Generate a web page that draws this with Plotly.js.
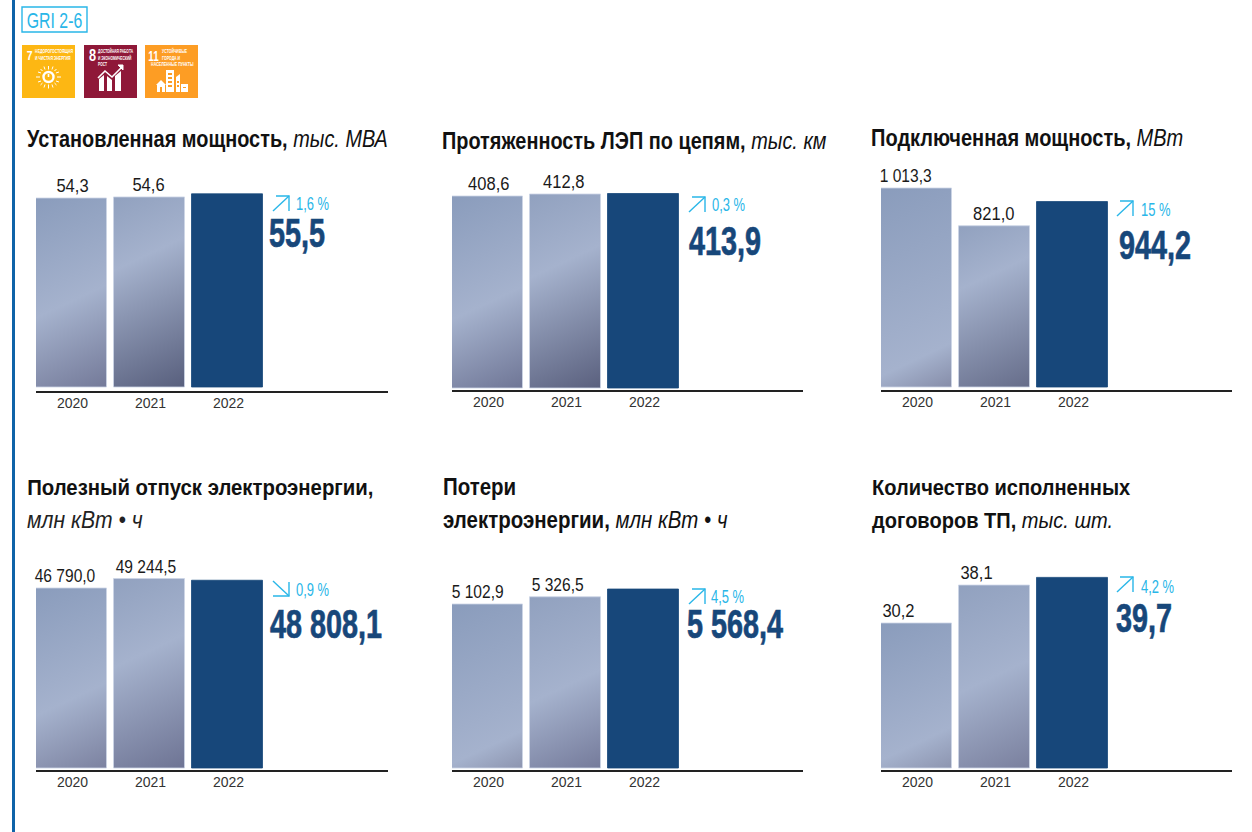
<!DOCTYPE html>
<html><head><meta charset="utf-8">
<script src="https://cdn.plot.ly/plotly-3.0.1.min.js"></script>
<style>html,body{margin:0;padding:0;background:#fff}#c{width:1252px;height:832px}</style></head>
<body><div id="c"></div>
<script>
const years = ['2020','2021','2022'];
const valuesInstalled = [54.3,54.6,55.5];
const valuesLines = [408.6,412.8,413.9];
const valuesConnected = [1013.3,821.0,944.2];
const valuesSupply = [46790.0,49244.5,48808.1];
const valuesLosses = [5102.9,5326.5,5568.4];
const valuesContracts = [30.2,38.1,39.7];
const labelsInstalled = ['54,3','54,6','55,5'];
const labelsLines = ['408,6','412,8','413,9'];
const labelsConnected = ['1 013,3','821,0','944,2'];
const labelsSupply = ['46 790,0','49 244,5','48 808,1'];
const labelsLosses = ['5 102,9','5 326,5','5 568,4'];
const labelsContracts = ['30,2','38,1','39,7'];
const changes = ['1,6 %','0,3 %','15 %','0,9 %','4,5 %','4,2 %'];
const directions = ['up','up','up','down','up','up'];
const titleBold = [['Установленная мощность,'],['Протяженность ЛЭП по цепям,'],['Подключенная мощность,'],['Полезный отпуск электроэнергии,'],['Потери','электроэнергии,'],['Количество исполненных','договоров ТП,']];
const titleUnit = ['тыс. МВА','тыс. км','МВт','млн кВт • ч','млн кВт • ч','тыс. шт.'];

const W=1252,H=832, SANS='"Liberation Sans",sans-serif';
const px=x=>x/W, py=y=>1-y/H;
const panels=[
 {v:valuesInstalled,l:labelsInstalled,x0:36,x1:388,axis:391,base:387,top:198,sh:[1,-1],ax:273,ay:196,pxx:295,pyy:204,bx:268,by:233,tx:26,ty:[139],ts:0.865,
  fill:[[0.54,'#747A99'],[0.33,'#585F7D']]},
 {v:valuesLines,l:labelsLines,x0:452,x1:803,axis:390,base:388,top:196,sh:[2,-1],ax:689,ay:197,pxx:711,pyy:205,bx:688,by:241,tx:441,ty:[141],ts:0.865,
  fill:[[0.55,'#6F7696'],[0.37,'#5A607E']]},
 {v:valuesConnected,l:labelsConnected,x0:881,x1:1232,axis:390,base:387,top:188,sh:[-11,0],ax:1117,ay:201,pxx:1140,pyy:210,bx:1118,by:245,tx:870,ty:[138],ts:0.87,
  fill:[[0.81,'#868DA9'],[0.33,'#666D8A']]},
 {v:valuesSupply,l:labelsSupply,x0:36,x1:388,axis:770,base:768,top:588,sh:[-6,-3],ax:273,ay:581,pxx:295,pyy:590,bx:269,by:624,tx:26,ty:[487,520],ts:0.885,
  fill:[[0.6,'#7C82A0'],[0.4,'#6E7494']]},
 {v:valuesLosses,l:labelsLosses,x0:452,x1:803,axis:770,base:768,top:604,sh:[-10,-8],ax:689,ay:589,pxx:710,pyy:597,bx:686,by:624,tx:442,ty:[487,520],ts:0.89,
  fill:[[0.81,'#8D95B0'],[0.52,'#757B9B']]},
 {v:valuesContracts,l:labelsContracts,x0:881,x1:1232,axis:770,base:768,top:623,sh:[-18,-18],ax:1117,ay:577,pxx:1140,pyy:587,bx:1115,by:618,tx:871,ty:[487,520],ts:0.872,
  fill:[[0.77,'#8D95B0'],[0.5,'#7A809E']]}
];
const STEP=78, TOPPX=150;
const traces=[],annotations=[],shapes=[],annFit=[];
const layout={width:W,height:H,margin:{l:0,r:0,t:0,b:0},paper_bgcolor:'#fff',plot_bgcolor:'rgba(0,0,0,0)',showlegend:false,bargap:0.09,annotations,shapes,font:{family:SANS}};

function addAnn(a,fit){annotations.push(a);annFit.push(fit);}
function note(text,x,y,size,color,anchor,sx,heavy){addAnn({text,x:px(x),y:py(y),xref:'paper',yref:'paper',xanchor:anchor||'left',yanchor:'middle',showarrow:false,borderpad:0,font:{size,color,family:SANS}},{sx:sx||0.865,origin:anchor==='center'?'center':'left',heavy:heavy||0,color});}
function shape(s){shapes.push(Object.assign({xref:'paper',yref:'paper'},s));}
function path(points){return points.map((p,i)=>(i?'L':'M')+px(p[0]).toFixed(5)+','+py(p[1]).toFixed(5)).join(' ');}
function rect(x0,y0,x1,y1,fill){shape({type:'rect',x0:px(x0),x1:px(x1),y0:py(y0),y1:py(y1),fillcolor:fill,line:{width:0}});}

panels.forEach((p,i)=>{
 const n=i+1, ax=n===1?'':n, xn='x'+ax, yn='y'+ax;
 const s=(p.base-p.top)/p.v[0];
 const c0=p.x0+35;
 traces.push({type:'bar',x:years,y:p.v,xaxis:xn,yaxis:yn,marker:{color:['#8F9EBD','#8F9EBD','#17477A'],line:{color:['#CBD4E6','#CBD4E6','#17477A'],width:0.8}},hoverinfo:'skip',cliponaxis:false});
 layout['xaxis'+ax]={domain:[px(p.x0),px(p.x1)],anchor:yn,type:'category',categoryorder:'array',categoryarray:years,range:[(p.x0-c0)/STEP,(p.x1-c0)/STEP],showgrid:false,zeroline:false,showline:true,linecolor:'#222',linewidth:1.6,ticks:'',tickfont:{family:SANS,size:14,color:'#333'},fixedrange:true};
 layout['yaxis'+ax]={domain:[py(p.axis),py(TOPPX)],anchor:xn,range:[-(p.axis-p.base)/s,(p.base-TOPPX)/s],visible:false,showgrid:false,zeroline:false,fixedrange:true};
 [0,1].forEach(k=>addAnn({text:p.l[k],x:k,y:p.v[k],xref:xn,yref:yn,xanchor:'center',yanchor:'bottom',xshift:p.sh[k],yshift:1,showarrow:false,borderpad:0,font:{size:19,color:'#1a1a1a',family:SANS}},{sx:p.l[k].includes(' ')?0.82:0.87,origin:'center',heavy:0,color:'#1a1a1a'}));
 const b=titleBold[i];
 if(p.ty.length===1){
  note('<b>'+b[0]+'</b> <i>'+titleUnit[i]+'</i>',p.tx,p.ty[0],23,'#111','left',p.ts);
 } else if(i===3){
  note('<b>'+b[0]+'</b>',p.tx,p.ty[0],23,'#111','left',p.ts);
  note('<i>'+titleUnit[i]+'</i>',p.tx,p.ty[1],23,'#222','left',0.92);
 } else {
  note('<b>'+b[0]+'</b>',p.tx,p.ty[0],23,'#111','left',p.ts);
  note('<b>'+b[1]+'</b> <i>'+titleUnit[i]+'</i>',p.tx,p.ty[1],23,'#111','left',p.ts);
 }
 note(changes[i],p.pxx,p.pyy,18,'#29B6E8','left',0.72);
 note('<b>'+p.l[2]+'</b>',p.bx,p.by,40,'#17477A','left',0.72,0.7);
 const a=p.ax,y=p.ay,w=16,h=15,st={color:'#29B6E8',width:1.4};
 if(directions[i]==='up'){
  shape({type:'path',path:path([[a,y+h],[a+w,y]]),line:st});
  shape({type:'path',path:path([[a+3,y],[a+w,y],[a+w,y+h]]),line:st});
 } else {
  shape({type:'path',path:path([[a,y],[a+w,y+h]]),line:st});
  shape({type:'path',path:path([[a,y+h],[a+w,y+h],[a+w,y+1]]),line:st});
 }
});

rect(12,0,15,832,'#0F63A8');
shape({type:'rect',x0:px(22),x1:px(87),y0:py(7),y1:py(32),line:{color:'#29B6E8',width:1.4},fillcolor:'#fff'});
note('GRI 2-6',54,20,22,'#29B6E8','center',0.72);

rect(22,45,75,98,'#FDB713'); rect(84,45,137,98,'#8F1838'); rect(145,45,198,98,'#FD9D24');
const tiny=(t,x,y,sx)=>note('<b>'+t+'</b>',x,y,5,'#fff','left',sx||0.7);
note('<b>7</b>',29,55,13,'#fff','center',0.8); tiny('НЕДОРОГОСТОЯЩАЯ',34,51); tiny('И ЧИСТАЯ ЭНЕРГИЯ',34,58);
note('<b>8</b>',92,56,16,'#fff','center',0.8); tiny('ДОСТОЙНАЯ РАБОТА',97,50,0.65); tiny('И ЭКОНОМИЧЕСКИЙ',97,57,0.65); tiny('РОСТ',97,64,0.65);
note('<b>11</b>',153,56,14,'#fff','center',0.7); tiny('УСТОЙЧИВЫЕ',161,51); tiny('ГОРОДА И',161,58); tiny('НАСЕЛЕННЫЕ ПУНКТЫ',150,64.5,0.72);

shape({type:'circle',x0:px(43.5),x1:px(53.5),y0:py(72),y1:py(82),line:{color:'#fff',width:2.4},fillcolor:'rgba(0,0,0,0)'});
[[48.5,66,48.5,69.5],[48.5,84.5,48.5,88.5],[36,77,40,77],[57,77,61,77],[40.5,69,42.5,71],[54.5,83,56.5,85],[56.5,69,54.5,71],[42.5,83,40.5,85],[44,66.5,45,69.5],[53,66.5,52,69.5],[44,87.5,45,84.5],[53,87.5,52,84.5],[38,72,41,73],[59,72,56,73],[38,82,41,81],[59,82,56,81]].forEach(r=>shape({type:'path',path:path([[r[0],r[1]],[r[2],r[3]]]),line:{color:'#fff',width:1}}));
shape({type:'path',path:path([[48.5,74],[48.5,77]]),line:{color:'#fff',width:1.6}});

shape({type:'path',path:path([[99,91],[99,79],[104,75],[104,91]])+' Z',fillcolor:'#fff',line:{width:0}});
shape({type:'path',path:path([[107,91],[107,76],[112,80],[112,91]])+' Z',fillcolor:'#fff',line:{width:0}});
shape({type:'path',path:path([[115,91],[115,76],[121,71],[121,91]])+' Z',fillcolor:'#fff',line:{width:0}});
shape({type:'path',path:path([[98,78],[105,71],[112,77],[122,67]]),line:{color:'#fff',width:1.6}});
shape({type:'path',path:path([[118,65],[123,65],[123,70]])+' Z',fillcolor:'#fff',line:{color:'#fff',width:1}});

[[166,70,174,92],[176,77,180,92],[181,84,188,92],[157,84,165,92]].forEach(r=>rect(r[0],r[1],r[2],r[3],'#fff'));
shape({type:'path',path:path([[156,85],[161,80],[166,85]])+' Z',fillcolor:'#fff',line:{width:0}});
shape({type:'path',path:path([[176,77],[180,74],[180,78]])+' Z',fillcolor:'#fff',line:{width:0}});
[[168,73,172,75],[168,77,172,79],[168,81,172,83],[168,85,172,87],[183,87,186,88],[160,87,162,92],[177,81,179,83],[177,85,179,87]].forEach(r=>rect(r[0],r[1],r[2],r[3],'#FD9D24'));

const SVGNS='http://www.w3.org/2000/svg', RIDGE_SLOPE=0.47;
const TOP_COLOR=['#8A9CBC','#91A1BF'], RIDGE_COLOR='#A5B2CD';
function paint(){
 const root=document.getElementById('c'), svg=root.querySelector('svg.main-svg');
 let defs=svg.querySelector('defs#barfills');
 if(defs) defs.remove();
 defs=document.createElementNS(SVGNS,'defs'); defs.id='barfills';
 svg.insertBefore(defs,svg.firstChild);
 root.querySelectorAll('.barlayer .trace.bars').forEach((t,pi)=>{
  t.querySelectorAll('.point path').forEach((el,i)=>{
   if(i>1) return;
   const bb=el.getBBox(), nx=RIDGE_SLOPE, ny=1, len=(nx*bb.width+ny*bb.height)/(nx*nx+ny*ny);
   const g=document.createElementNS(SVGNS,'linearGradient');
   g.id='grad-'+pi+'-'+i; g.setAttribute('gradientUnits','userSpaceOnUse');
   g.setAttribute('x1',bb.x);g.setAttribute('y1',bb.y);
   g.setAttribute('x2',bb.x+nx*len);g.setAttribute('y2',bb.y+ny*len);
   const f=panels[pi].fill[i];
   [[0,TOP_COLOR[i]],[f[0],RIDGE_COLOR],[1,f[1]]].forEach(s=>{const e=document.createElementNS(SVGNS,'stop');e.setAttribute('offset',s[0]);e.setAttribute('stop-color',s[1]);g.appendChild(e);});
   defs.appendChild(g);
   el.style.fill='url(#'+g.id+')';
  });
 });
 root.querySelectorAll('g.annotation').forEach(g=>{
  const fit=annFit[+g.getAttribute('data-index')], tx=g.querySelector('text');
  if(!fit||!tx) return;
  tx.style.transformBox='fill-box';
  tx.style.transformOrigin=fit.origin+' center';
  tx.style.transform='scaleX('+fit.sx+')';
  if(fit.heavy){tx.style.stroke=fit.color;tx.style.strokeWidth=fit.heavy+'px';}
 });
 root.querySelectorAll('g.xaxislayer-above text').forEach(t=>{t.setAttribute('dx','1.5');t.setAttribute('dy','-1.5');});
}
Plotly.newPlot('c',traces,layout,{displayModeBar:false,staticPlot:true}).then(gd=>{paint();gd.on('plotly_afterplot',paint);});
</script></body></html>
